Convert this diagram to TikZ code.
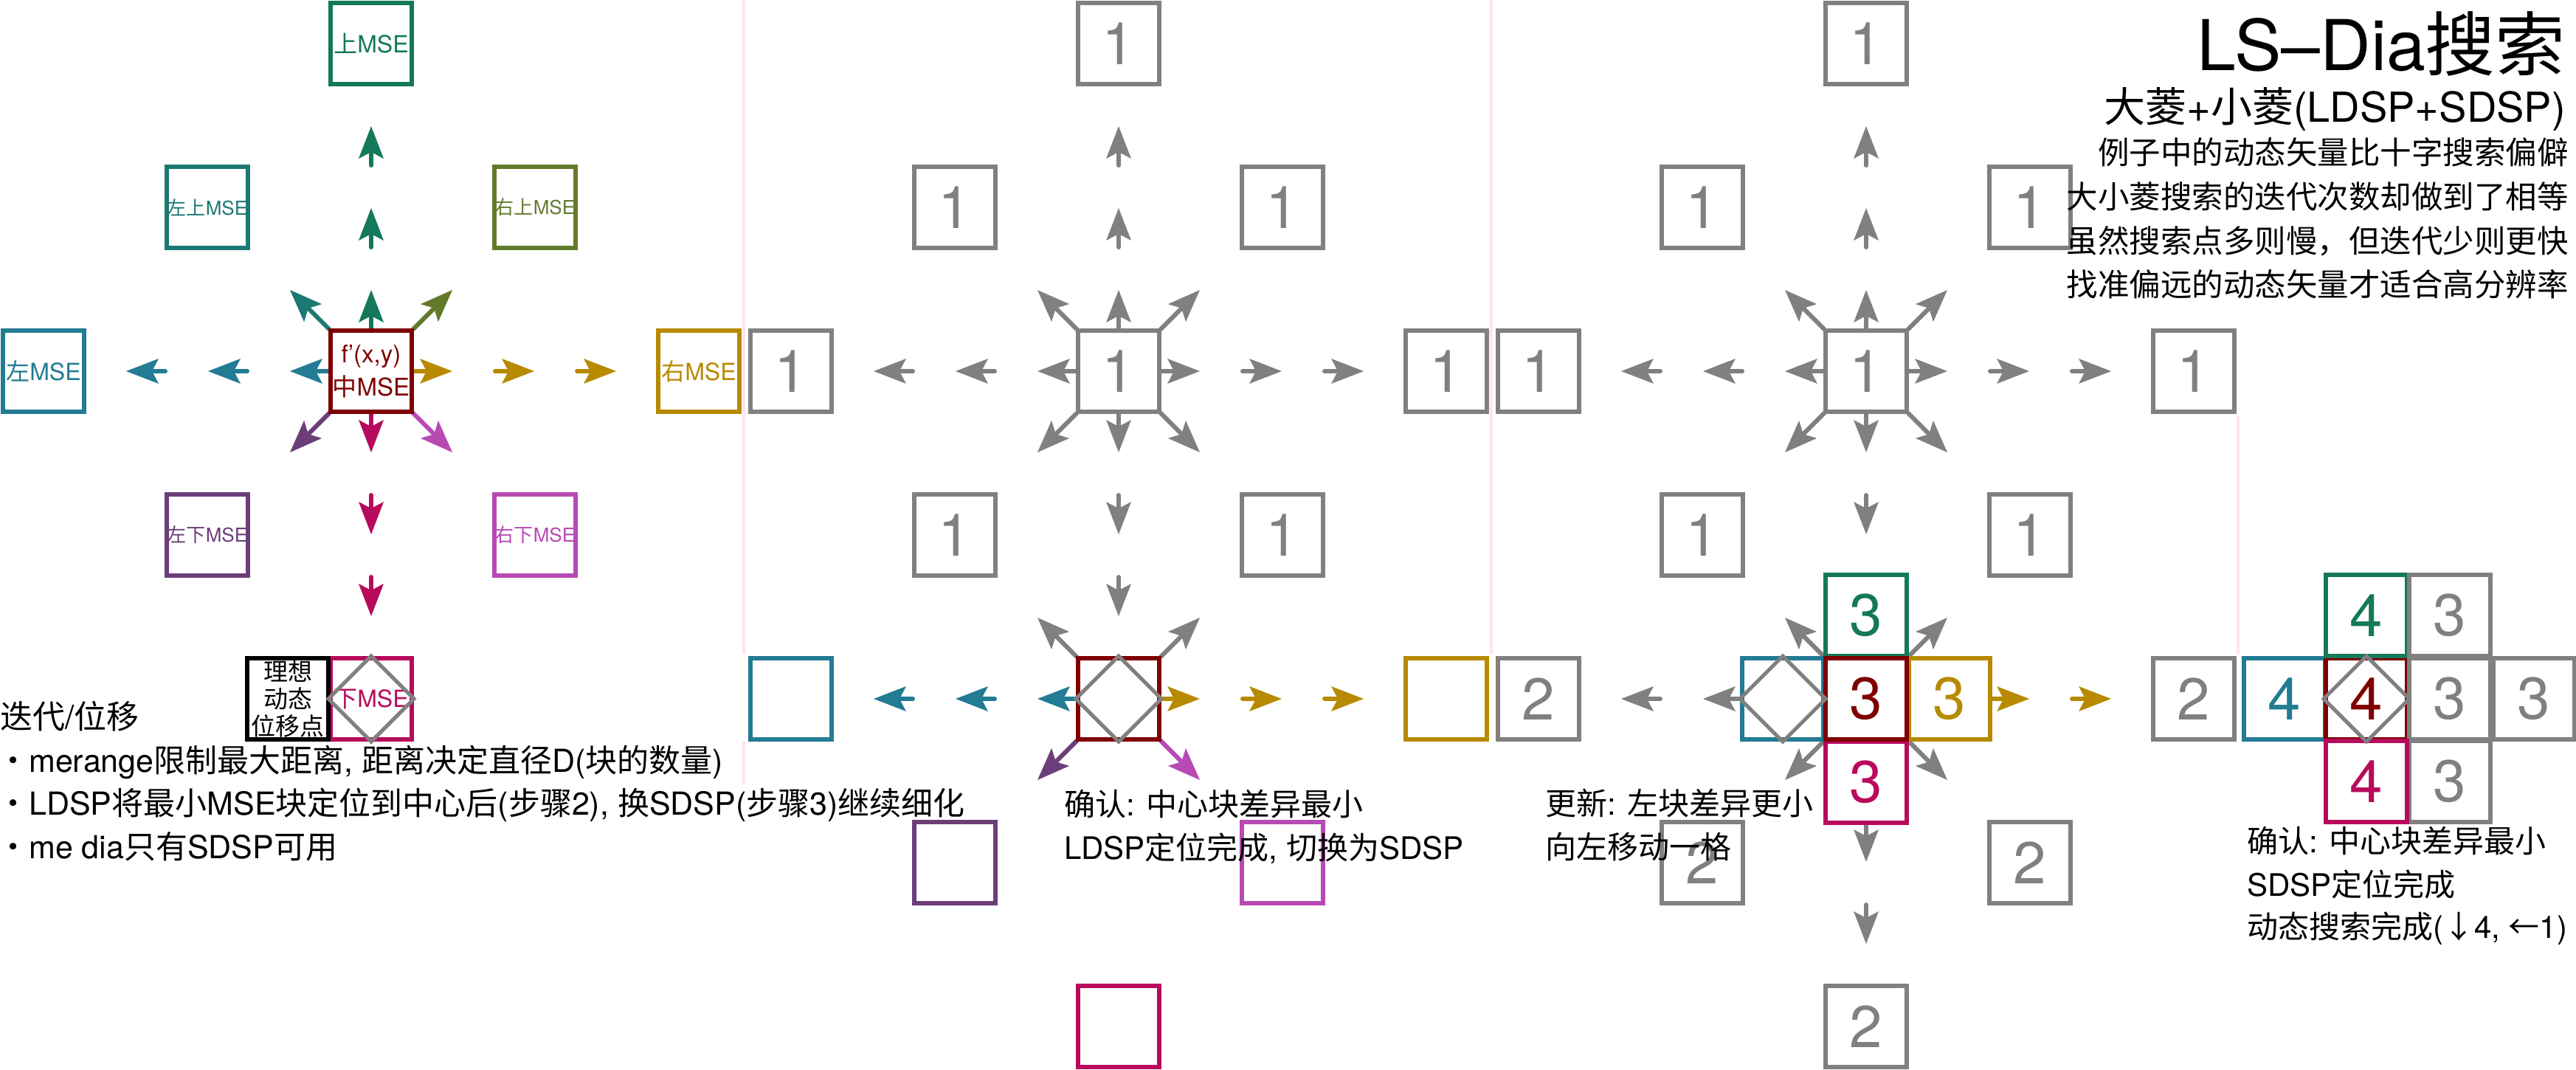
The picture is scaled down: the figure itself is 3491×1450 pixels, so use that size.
\documentclass[tikz,border=0pt]{standalone}
\usepackage{fontspec}
\setmainfont{TeX Gyre Heros}
\newfontfamily\cjk{Noto Sans CJK SC}
\usetikzlibrary{arrows.meta,calc}
\definecolor{cUp}{HTML}{14785A}
\definecolor{cUL}{HTML}{1D7873}
\definecolor{cUR}{HTML}{637A2C}
\definecolor{cL}{HTML}{237B94}
\definecolor{cR}{HTML}{B88A00}
\definecolor{cC}{HTML}{7F0000}
\definecolor{cDL}{HTML}{6B3E7A}
\definecolor{cD}{HTML}{B80A5C}
\definecolor{cDR}{HTML}{B84AB4}
\definecolor{cG}{HTML}{808080}
\definecolor{cPink}{HTML}{FFE4E8}
\tikzset{
  blk/.style={draw=#1, text=#1, line width=6pt, fill=white, minimum size=110pt, inner sep=0pt, font=\fontsize{80}{80}\selectfont},
  lbl/.style={font=\fontsize{32}{36}\selectfont},
  lbls/.style={font=\fontsize{26}{30}\selectfont},
  arw/.style={draw=#1, line width=6pt, line cap=round, -{Stealth[length=44pt, width=34pt, inset=9pt, line width=0pt]}},
  diam/.style={draw=cG, line width=5pt, line join=miter},
  sepline/.style={draw=cPink, line width=4pt},
  txt/.style={font=\fontsize{42}{50}\selectfont, inner sep=0pt},
}
\newcommand\arw[5]{\draw[arw=#5] ($(#1)+({#2*(57+111*#4)},{#3*(57+111*#4)})$) -- ($(#1)+({#2*(110+111*#4)},{#3*(110+111*#4)})$);}
\begin{document}
\begin{tikzpicture}[x=1pt,y=-1pt]
\useasboundingbox (0,0) rectangle (3491,1450);
% separators
\draw[sepline] (1008,0) -- (1008,886);
\draw[sepline] (1008,1005) -- (1008,1063);
\draw[sepline] (2021,0) -- (2021,886);
\draw[sepline] (3033,563) -- (3033,886);
% centres
\coordinate (c1) at (503,503);
\coordinate (c2) at (1516,503);
\coordinate (c3) at (2529,503);
\coordinate (c2b) at (1516,947);
\coordinate (c3s) at (2529,947);
\coordinate (c4) at (3207,947);
% ---------- arrows panel 1
\foreach \k in {0,1,2} {
  \arw{c1}{0}{-1}{\k}{cUp}
  \arw{c1}{0}{1}{\k}{cD}
  \arw{c1}{-1}{0}{\k}{cL}
  \arw{c1}{1}{0}{\k}{cR}
}
\arw{c1}{-1}{-1}{0}{cUL}
\arw{c1}{1}{-1}{0}{cUR}
\arw{c1}{-1}{1}{0}{cDL}
\arw{c1}{1}{1}{0}{cDR}
% ---------- arrows panel 2
\foreach \k in {0,1,2} {
  \arw{c2}{0}{-1}{\k}{cG}
  \arw{c2}{0}{1}{\k}{cG}
  \arw{c2}{-1}{0}{\k}{cG}
  \arw{c2}{1}{0}{\k}{cG}
  \arw{c2b}{-1}{0}{\k}{cL}
  \arw{c2b}{1}{0}{\k}{cR}
}
\foreach \dx/\dy in {-1/-1,1/-1,-1/1,1/1} { \arw{c2}{\dx}{\dy}{0}{cG} }
\arw{c2b}{-1}{-1}{0}{cG}
\arw{c2b}{1}{-1}{0}{cG}
\arw{c2b}{-1}{1}{0}{cDL}
\arw{c2b}{1}{1}{0}{cDR}
% ---------- arrows panel 3
\foreach \k in {0,1,2} {
  \arw{c3}{0}{-1}{\k}{cG}
  \arw{c3}{-1}{0}{\k}{cG}
  \arw{c3}{1}{0}{\k}{cG}
}
\foreach \k in {0,1} { \arw{c3}{0}{1}{\k}{cG} }
\foreach \dx/\dy in {-1/-1,1/-1,-1/1,1/1} { \arw{c3}{\dx}{\dy}{0}{cG} \arw{c3s}{\dx}{\dy}{0}{cG} }
\foreach \k in {1,2} {
  \arw{c3s}{-1}{0}{\k}{cG}
  \arw{c3s}{1}{0}{\k}{cR}
  \arw{c3s}{0}{1}{\k}{cG}
}
% ---------- boxes panel 1
\node[blk=cUp, lbl] (p1u) at ($(c1)+(0,-444)$) {{\cjk 上}MSE};
\node[blk=cUL, lbls] (p1ul) at ($(c1)+(-222,-222)$) {{\cjk 左上}MSE};
\node[blk=cUR, lbls] (p1ur) at ($(c1)+(222,-222)$) {{\cjk 右上}MSE};
\node[blk=cL, lbl] (p1l) at ($(c1)+(-444,0)$) {{\cjk 左}MSE};
\node[blk=cR, lbl] (p1r) at ($(c1)+(444,0)$) {{\cjk 右}MSE};
\node[blk=cDL, lbls] (p1dl) at ($(c1)+(-222,222)$) {{\cjk 左下}MSE};
\node[blk=cDR, lbls] (p1dr) at ($(c1)+(222,222)$) {{\cjk 右下}MSE};
\node[blk=cC, font=\fontsize{33}{45}\selectfont, align=center] (p1c) at (c1) {f’(x,y)\\{\cjk 中}MSE};
\node[blk=cD, lbl] (p1d) at ($(c1)+(0,444)$) {{\cjk 下}MSE};
\node[blk=black, font={\cjk\fontsize{33}{37}\selectfont}, align=center] (p1k) at ($(c1)+(-113,444)$) {理想\\动态\\位移点};
\draw[diam] (p1d.north) -- (p1d.east) -- (p1d.south) -- (p1d.west) -- cycle;
% ---------- boxes panel 2
\foreach \n/\dx/\dy in {u/0/-444, ul/-222/-222, ur/222/-222, l/-444/0, r/444/0, dl/-222/222, dr/222/222, c/0/0}
  { \node[blk=cG] (p2\n) at ($(c2)+(\dx,\dy)$) {1}; }
\node[blk=cL] (p2bl) at ($(c2b)+(-444,0)$) {};
\node[blk=cR] (p2br) at ($(c2b)+(444,0)$) {};
\node[blk=cDL] (p2bdl) at ($(c2b)+(-222,222)$) {};
\node[blk=cDR] (p2bdr) at ($(c2b)+(222,222)$) {};
\node[blk=cD] (p2bd) at ($(c2b)+(0,444)$) {};
\node[blk=cC] (p2b) at (c2b) {};
\draw[diam] (p2b.north) -- (p2b.east) -- (p2b.south) -- (p2b.west) -- cycle;
% ---------- boxes panel 3
\foreach \n/\dx/\dy in {u/0/-444, ul/-222/-222, ur/222/-222, l/-444/0, r/444/0, dl/-222/222, dr/222/222, c/0/0}
  { \node[blk=cG] (p3\n) at ($(c3)+(\dx,\dy)$) {1}; }
\foreach \n/\dx/\dy in {a/-444/0, b/444/0, e/-222/222, f/222/222, g/0/444}
  { \node[blk=cG] (p3t\n) at ($(c3s)+(\dx,\dy)$) {2}; }
\node[blk=cL] (p3sl) at ($(c3s)+(-113,0)$) {};
\node[blk=cUp] (p3su) at ($(c3s)+(0,-113)$) {3};
\node[blk=cR] (p3sr) at ($(c3s)+(113,0)$) {3};
\node[blk=cD] (p3sd) at ($(c3s)+(0,113)$) {3};
\node[blk=cC] (p3s) at (c3s) {3};
\draw[diam] (p3sl.north) -- (p3sl.east) -- (p3sl.south) -- (p3sl.west) -- cycle;
% ---------- group 4
\node[blk=cL] (g4l) at ($(c4)+(-111,0)$) {4};
\node[blk=cC] (g4c) at (c4) {4};
\node[blk=cUp] (g4u) at ($(c4)+(0,-113)$) {4};
\node[blk=cG] (g4a) at ($(c4)+(113,-113)$) {3};
\node[blk=cG] (g4b) at ($(c4)+(113,0)$) {3};
\node[blk=cG] (g4e) at ($(c4)+(227,0)$) {3};
\node[blk=cG] (g4f) at ($(c4)+(113,112)$) {3};
\node[blk=cD] (g4d) at ($(c4)+(0,112)$) {4};
\draw[diam] (g4c.north) -- (g4c.east) -- (g4c.south) -- (g4c.west) -- cycle;
% ---------- texts top right
\node[inner sep=0pt, anchor=base east, font=\fontsize{95}{100}\selectfont] (title) at (3477,96) {LS–Dia{\cjk 搜索}};
\node[inner sep=0pt, anchor=base east, font=\fontsize{56}{60}\selectfont] (sub) at (3477,166) {{\cjk 大菱}+{\cjk 小菱}(LDSP+SDSP)};
\node[inner sep=0pt, anchor=base east, font={\cjk\fontsize{42.5}{50}\selectfont}] (n1) at (3481,223) {例子中的动态矢量比十字搜索偏僻};
\node[inner sep=0pt, anchor=base east, font={\cjk\fontsize{42.5}{50}\selectfont}] (n2) at (3481,282) {大小菱搜索的迭代次数却做到了相等};
\node[inner sep=0pt, anchor=base east, font={\cjk\fontsize{42.5}{50}\selectfont}] (n3) at (3481,342) {虽然搜索点多则慢，但迭代少则更快};
\node[inner sep=0pt, anchor=base east, font={\cjk\fontsize{42.5}{50}\selectfont}] (n4) at (3481,401) {找准偏远的动态矢量才适合高分辨率};
% ---------- texts bottom left
\node[inner sep=0pt, anchor=base west, font=\fontsize{44}{50}\selectfont] (it) at (0,987) {{\cjk 迭代}/{\cjk 位移}};
\node[inner sep=0pt, anchor=base west, font=\fontsize{43}{50}\selectfont] (b1) at (-4,1046) {{\cjk ・}merange{\cjk 限制最大距离}, {\cjk 距离决定直径}D({\cjk 块的数量})};
\node[inner sep=0pt, anchor=base west, font=\fontsize{43}{50}\selectfont] (b2) at (-4,1104) {{\cjk ・}LDSP{\cjk 将最小}MSE{\cjk 块定位到中心后}({\cjk 步骤}2), {\cjk 换}SDSP({\cjk 步骤}3){\cjk 继续细化}};
\node[inner sep=0pt, anchor=base west, font=\fontsize{43}{50}\selectfont] (b3) at (-4,1163) {{\cjk ・}me dia{\cjk 只有}SDSP{\cjk 可用}};
% ---------- panel notes
\node[txt, anchor=base west] (m1) at (1442,1105) {{\cjk 确认}: {\cjk 中心块差异最小}};
\node[txt, anchor=base west] (m2) at (1442,1164) {LDSP{\cjk 定位完成}, {\cjk 切换为}SDSP};
\node[txt, anchor=base west] (r1) at (2094,1104) {{\cjk 更新}: {\cjk 左块差异更小}};
\node[txt, anchor=base west] (r2) at (2094,1163) {{\cjk 向左移动一格}};
\node[txt, anchor=base west] (q1) at (3045,1155) {{\cjk 确认}: {\cjk 中心块差异最小}};
\node[txt, anchor=base west] (q2) at (3045,1214) {SDSP{\cjk 定位完成}};
\node[txt, anchor=base west] (q3) at (3045,1271) {{\cjk 动态搜索完成}({\cjk ↓}4, {\cjk ←}1)};
\end{tikzpicture}
\end{document}
